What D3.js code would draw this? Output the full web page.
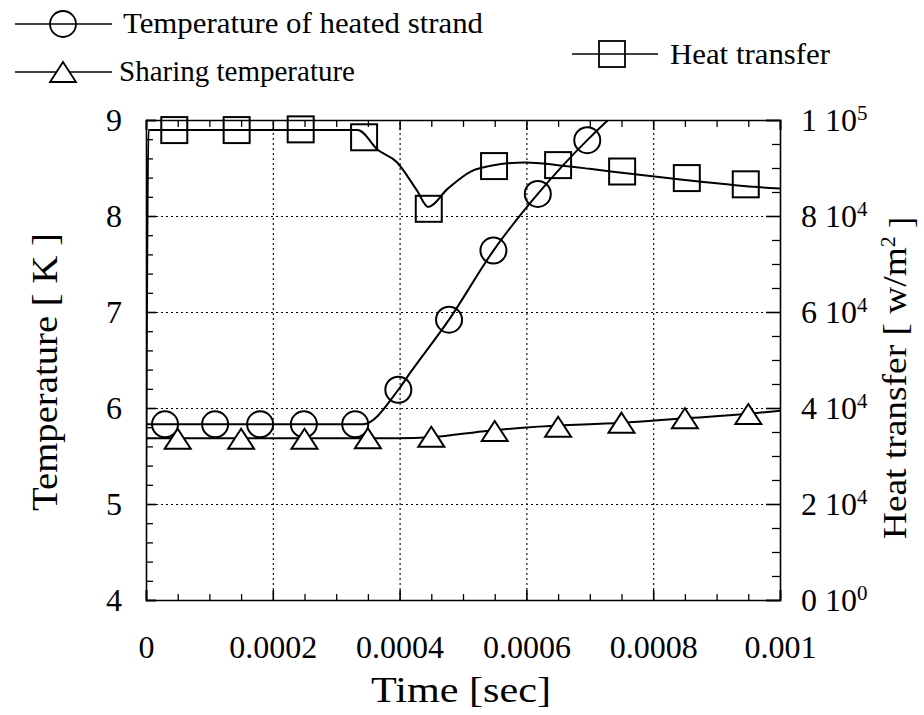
<!DOCTYPE html>
<html>
<head>
<meta charset="utf-8">
<script src="https://cdn.jsdelivr.net/npm/d3@7"></script>
<style>
  html, body { margin: 0; padding: 0; background: #fff; }
  svg { display: block; }
  svg text { font-family: "Liberation Serif", "Times New Roman", Times, "DejaVu Serif", serif !important; fill: #000; }
</style>
</head>
<body>
<svg id="chart" width="924" height="715"></svg>
<script>
// ---------------- DATA ----------------
const timeTicks = [0, 0.0002, 0.0004, 0.0006, 0.0008, 0.001];
const timeTickLabels = ["0", "0.0002", "0.0004", "0.0006", "0.0008", "0.001"];
const tempTicks = [4, 5, 6, 7, 8, 9];
const tempTickLabels = ["4", "5", "6", "7", "8", "9"];
const heatTicks = [0, 20000, 40000, 60000, 80000, 100000];
const heatTickMantissa = ["0", "2", "4", "6", "8", "1"];
const heatTickExponent = ["0", "4", "4", "4", "4", "5"];

// Temperature of heated strand (line)
const strandLineTime = [0, 0.00033, 0.000342, 0.000398, 0.000416, 0.000478, 0.000548, 0.000618, 0.000696, 0.000729, 0.00078];
const strandLineTemp = [5.83, 5.83, 5.83, 6.19, 6.36, 6.92, 7.64, 8.23, 8.79, 9.0, 9.28];
// Temperature of heated strand (markers)
const strandMarkTime = [0.00003, 0.000109, 0.00018, 0.000249, 0.00033, 0.000398, 0.000478, 0.000548, 0.000618, 0.000696];
const strandMarkTemp = [5.83, 5.83, 5.83, 5.83, 5.83, 6.19, 6.92, 7.64, 8.23, 8.79];

// Sharing temperature (line)
const shareLineTime = [0, 0.000398, 0.000449, 0.000541, 0.000619, 0.00075, 0.000849, 0.000947, 0.001];
const shareLineTemp = [5.684, 5.684, 5.695, 5.764, 5.806, 5.847, 5.893, 5.937, 5.972];
// Sharing temperature (markers)
const shareMarkTime = [0.00005, 0.00015, 0.00025, 0.00035, 0.00045, 0.00055, 0.00065, 0.00075, 0.00085, 0.00095];
const shareMarkTemp = [5.68, 5.68, 5.68, 5.685, 5.7, 5.76, 5.805, 5.847, 5.893, 5.937];

// Heat transfer (line)
const heatLineTime = [0, 0.000004, 0.000334, 0.000366, 0.000395, 0.000427, 0.000445, 0.000476, 0.000513, 0.000546, 0.000599, 0.000653, 0.0007, 0.000754, 0.000802, 0.00085, 0.000904, 0.000957, 0.001];
const heatLineValue = [19000, 97900, 97900, 93750, 91300, 85400, 81900, 85700, 89300, 90500, 91170, 90540, 89830, 88960, 88210, 87500, 86790, 86080, 85730];
// Heat transfer (markers)
const heatMarkTime = [0.0000446, 0.000143, 0.000244, 0.000344, 0.000446, 0.000549, 0.00065, 0.000751, 0.000853, 0.000946];
const heatMarkValue = [97900, 97900, 98050, 96400, 81500, 90400, 90600, 89270, 87900, 86600];

// ---------------- LAYOUT ----------------
const FONT = '"Liberation Serif", "Times New Roman", Times, "DejaVu Serif", serif';
const svg = d3.select("#chart");
const L = 146, R = 780, T = 120, B = 600;

const x = d3.scaleLinear().domain([0, 0.001]).range([L, R]);
const yT = d3.scaleLinear().domain([4, 9]).range([B, T]);
const yQ = d3.scaleLinear().domain([0, 100000]).range([B, T]);

const zip = (a, b) => a.map((v, i) => [v, b[i]]);

svg.append("defs").append("clipPath").attr("id", "plotclip")
  .append("rect").attr("x", L).attr("y", T).attr("width", R - L).attr("height", B - T);

// gridlines
const gridX = svg.append("g").attr("transform", `translate(0,${B})`)
  .call(d3.axisBottom(x).tickValues([0.0002, 0.0004, 0.0006, 0.0008]).tickSize(-(B - T)).tickFormat(""));
const gridY = svg.append("g").attr("transform", `translate(${L},0)`)
  .call(d3.axisLeft(yT).tickValues([5, 6, 7, 8]).tickSize(-(R - L)).tickFormat(""));
[gridX, gridY].forEach(g => {
  g.select(".domain").remove();
  g.selectAll("line").attr("stroke", "#000").attr("stroke-width", 1.1).attr("stroke-dasharray", "2,3");
});

// minor ticks
function minorAxis(axis, tr, vals, size) {
  const g = svg.append("g").attr("transform", tr)
    .call(axis.tickValues(vals).tickSize(size).tickFormat(""));
  g.select(".domain").remove();
  g.selectAll("line").attr("stroke", "#000").attr("stroke-width", 1.3);
  return g;
}
const minorTime = d3.range(0, 21).map(i => i * 0.00005).filter((d, i) => i % 4 !== 0);
const minorTemp = d3.range(0, 26).map(i => 4 + i * 0.2).filter((d, i) => i % 5 !== 0);
const minorHeat = d3.range(0, 21).map(i => i * 5000).filter((d, i) => i % 4 !== 0);
minorAxis(d3.axisBottom(x), `translate(0,${B})`, minorTime, -6);
minorAxis(d3.axisTop(x), `translate(0,${T})`, minorTime, -7);
minorAxis(d3.axisLeft(yT), `translate(${L},0)`, minorTemp, -7);
minorAxis(d3.axisRight(yQ), `translate(${R},0)`, minorHeat, -8);

// major axes
const axB = svg.append("g").attr("transform", `translate(0,${B})`)
  .call(d3.axisBottom(x).tickValues(timeTicks).tickFormat((d, i) => timeTickLabels[i]).tickSize(-10).tickPadding(35));
const axT = svg.append("g").attr("transform", `translate(0,${T})`)
  .call(d3.axisTop(x).tickValues(timeTicks).tickFormat("").tickSize(-10));
const axL = svg.append("g").attr("transform", `translate(${L},0)`)
  .call(d3.axisLeft(yT).tickValues(tempTicks).tickFormat((d, i) => tempTickLabels[i]).tickSize(-10).tickPadding(24));
const axR = svg.append("g").attr("transform", `translate(${R},0)`)
  .call(d3.axisRight(yQ).tickValues(heatTicks).tickFormat("").tickSize(-14).tickPadding(20));
[axB, axT, axL, axR].forEach(g => {
  g.attr("font-family", FONT);
  g.select(".domain").attr("stroke", "#000").attr("stroke-width", 1.6);
  g.selectAll("line").attr("stroke", "#000").attr("stroke-width", 1.6);
  g.selectAll("text").attr("font-size", 32).attr("fill", "#000");
});

axR.selectAll(".tick").each(function (d, i) {
  const t = d3.select(this).append("text")
    .attr("x", 21).attr("dy", "0.32em").attr("fill", "#000").attr("font-size", 32);
  t.append("tspan").text(heatTickMantissa[i] + " 10");
  t.append("tspan").attr("dy", "-0.5em").attr("font-size", 21).text(heatTickExponent[i]);
});

// ---------------- SERIES ----------------
const plot = svg.append("g").attr("clip-path", "url(#plotclip)");
const lineT = d3.line().x(d => x(d[0])).y(d => yT(d[1])).curve(d3.curveMonotoneX);
const lineQ = d3.line().x(d => x(d[0])).y(d => yQ(d[1])).curve(d3.curveMonotoneX);

plot.append("path").datum(zip(heatLineTime, heatLineValue))
  .attr("d", lineQ).attr("fill", "none").attr("stroke", "#000").attr("stroke-width", 2);
plot.append("path").datum(zip(shareLineTime, shareLineTemp))
  .attr("d", lineT).attr("fill", "none").attr("stroke", "#000").attr("stroke-width", 2);
plot.append("path").datum(zip(strandLineTime, strandLineTemp))
  .attr("d", lineT).attr("fill", "none").attr("stroke", "#000").attr("stroke-width", 2);

const triPath = "M0,-10L13,10L-13,10Z";

svg.append("g").selectAll("circle").data(zip(strandMarkTime, strandMarkTemp)).join("circle")
  .attr("cx", d => x(d[0])).attr("cy", d => yT(d[1])).attr("r", 13)
  .attr("fill", "none").attr("stroke", "#000").attr("stroke-width", 2);
svg.append("g").selectAll("path").data(zip(shareMarkTime, shareMarkTemp)).join("path")
  .attr("transform", d => `translate(${x(d[0])},${yT(d[1])})`).attr("d", triPath)
  .attr("fill", "#fff").attr("stroke", "#000").attr("stroke-width", 2);
svg.append("g").selectAll("rect").data(zip(heatMarkTime, heatMarkValue)).join("rect")
  .attr("x", d => x(d[0]) - 13).attr("y", d => yQ(d[1]) - 13).attr("width", 26).attr("height", 26)
  .attr("fill", "none").attr("stroke", "#000").attr("stroke-width", 2);

// ---------------- TITLES ----------------
svg.append("text").attr("x", 461).attr("y", 702).attr("text-anchor", "middle")
  .attr("font-size", 35).attr("textLength", 180).attr("lengthAdjust", "spacingAndGlyphs")
  .text("Time  [sec]");
svg.append("text").attr("transform", "translate(57,372) rotate(-90)").attr("text-anchor", "middle")
  .attr("font-size", 35).attr("textLength", 278).attr("lengthAdjust", "spacingAndGlyphs")
  .text("Temperature [ K ]");
const rt = svg.append("text").attr("transform", "translate(906,378) rotate(-90)").attr("text-anchor", "middle")
  .attr("font-size", 33);
rt.append("tspan").attr("textLength", 292).attr("lengthAdjust", "spacingAndGlyphs").text("Heat transfer [ w/m");
rt.append("tspan").attr("dy", "-0.5em").attr("font-size", 22).text("2");
rt.append("tspan").attr("dy", "0.5em").text(" ]");

// ---------------- LEGEND ----------------
const leg = svg.append("g");
leg.append("line").attr("x1", 15).attr("x2", 112).attr("y1", 24).attr("y2", 24).attr("stroke", "#000").attr("stroke-width", 1.6);
leg.append("circle").attr("cx", 63).attr("cy", 24).attr("r", 13).attr("fill", "none").attr("stroke", "#000").attr("stroke-width", 1.8);
leg.append("text").attr("x", 123).attr("y", 24).attr("dy", "0.32em").attr("font-size", 29)
  .attr("textLength", 360).attr("lengthAdjust", "spacingAndGlyphs").text("Temperature of heated strand");
leg.append("line").attr("x1", 15).attr("x2", 112).attr("y1", 72).attr("y2", 72).attr("stroke", "#000").attr("stroke-width", 1.6);
leg.append("path").attr("transform", "translate(63,72)").attr("d", triPath).attr("fill", "#fff").attr("stroke", "#000").attr("stroke-width", 1.8);
leg.append("text").attr("x", 119).attr("y", 72).attr("dy", "0.32em").attr("font-size", 29)
  .attr("textLength", 236).attr("lengthAdjust", "spacingAndGlyphs").text("Sharing temperature");
leg.append("line").attr("x1", 572).attr("x2", 658).attr("y1", 54).attr("y2", 54).attr("stroke", "#000").attr("stroke-width", 1.6);
leg.append("rect").attr("x", 599).attr("y", 41).attr("width", 26).attr("height", 26).attr("fill", "none").attr("stroke", "#000").attr("stroke-width", 1.8);
leg.append("text").attr("x", 670).attr("y", 54).attr("dy", "0.32em").attr("font-size", 30)
  .attr("textLength", 160).attr("lengthAdjust", "spacingAndGlyphs").text("Heat transfer");
</script>
</body>
</html>
